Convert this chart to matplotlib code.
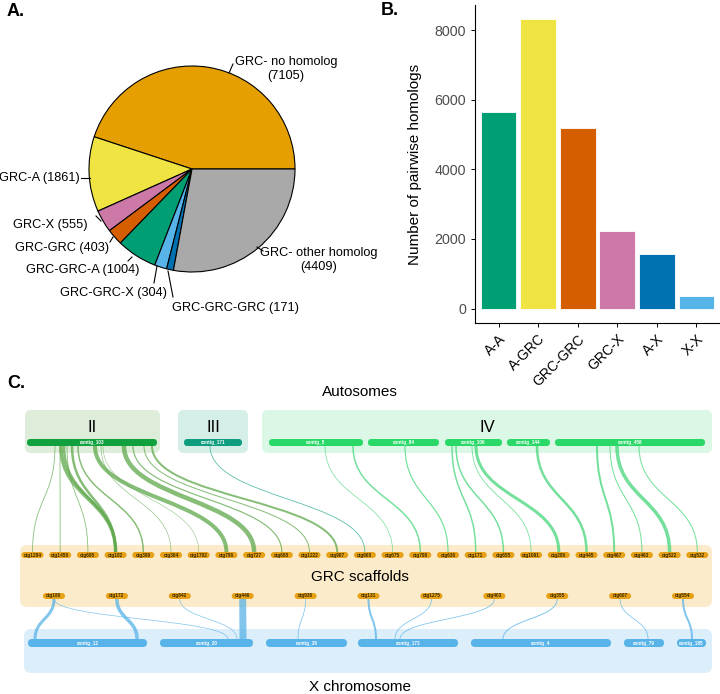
import matplotlib
matplotlib.use("Agg")
import matplotlib.pyplot as plt
from matplotlib.patches import FancyBboxPatch, PathPatch
from matplotlib.path import Path

plt.rcParams['font.family'] = ['Liberation Sans', 'DejaVu Sans']

# ------------------------------------------------------------
# Data
# ------------------------------------------------------------

# Panel A: GRC gene categories
pie_labels = ["GRC- no homolog\n(7105)", "GRC-A (1861)", "GRC-X (555)", "GRC-GRC (403)",
              "GRC-GRC-A (1004)", "GRC-GRC-X (304)", "GRC-GRC-GRC (171)",
              "GRC- other homolog\n(4409)"]
pie_values = [7105, 1861, 555, 403, 1004, 304, 171, 4409]
pie_colors = ["#E69F00", "#F0E442", "#CC79A7", "#D55E00",
              "#009E73", "#56B4E9", "#0072B2", "#A9A9A9"]

# Panel B: pairwise homologs
bar_cats = ["A-A", "A-GRC", "GRC-GRC", "GRC-X", "A-X", "X-X"]
bar_values = [5640, 8320, 5190, 2240, 1570, 360]
bar_colors = ["#009E73", "#F0E442", "#D55E00", "#CC79A7", "#0072B2", "#56B4E9"]

# Panel C: contigs (name, x start, x end) in pixel layout
auto_contigs = [("contig_103", 27, 157, "II"), ("contig_171", 184, 242, "III"),
                ("contig_5", 269, 363, "IV"), ("contig_84", 368, 439, "IV"),
                ("contig_106", 445, 502, "IV"), ("contig_144", 507, 550, "IV"),
                ("contig_458", 555, 705, "IV")]
x_contigs = [("contig_12", 28, 147), ("contig_20", 160, 253), ("contig_36", 266, 347),
             ("contig_173", 358, 458), ("contig_4", 471, 611), ("contig_79", 624, 664),
             ("contig_185", 677, 706)]
grc_row1 = ["ctg1284", "ctg1456", "ctg695", "ctg182", "ctg389", "ctg304", "ctg1702",
            "ctg796", "ctg727", "ctg688", "ctg1222", "ctg907", "ctg668", "ctg675",
            "ctg708", "ctg636", "ctg171", "ctg655", "ctg1091", "ctg286", "ctg445",
            "ctg467", "ctg463", "ctg522", "ctg532"]
grc_row2 = ["ctg180", "ctg172", "ctg842", "ctg446", "ctg936", "ctg131", "ctg1275",
            "ctg403", "ctg355", "ctg607", "ctg554"]

# autosome -> GRC links: source chromosome, source x, target scaffold, width
top_src = ["II", "II", "II", "II", "II", "II", "II", "II", "II", "II", "II", "II", "II", "II",
           "III", "IV", "IV", "IV", "IV", "IV", "IV", "IV", "IV", "IV", "IV", "IV", "IV"]
top_src_x = [55, 60, 67, 61, 64, 72, 78, 101, 103, 95, 124, 133, 144, 152,
             210, 325, 353, 405, 452, 456, 472, 476, 537, 597, 610, 617, 639]
top_dst = ["ctg1284", "ctg1456", "ctg695", "ctg182", "ctg182", "ctg182", "ctg389", "ctg304",
           "ctg1702", "ctg796", "ctg727", "ctg688", "ctg1222", "ctg907",
           "ctg668", "ctg675", "ctg708", "ctg636", "ctg171", "ctg655", "ctg1091", "ctg286",
           "ctg445", "ctg467", "ctg463", "ctg522", "ctg532"]
top_w = [0.8, 0.8, 0.8, 3.5, 2.5, 2.5, 1.5, 0.6, 0.5, 4.0, 4.5, 1.2, 1.0, 2.0,
         0.8, 0.7, 1.5, 1.2, 1.5, 1.5, 0.8, 3.0, 2.5, 2.0, 1.0, 3.5, 1.0]

# GRC -> X links: source scaffold, target x, width
bot_src = ["ctg180", "ctg180", "ctg172", "ctg842", "ctg446", "ctg936", "ctg131",
           "ctg1275", "ctg403", "ctg355", "ctg607", "ctg554"]
bot_dst_x = [35, 228, 137, 237, 243, 298, 376, 395, 400, 503, 648, 692]
bot_w = [3.0, 0.7, 3.5, 0.7, 7.0, 0.8, 2.0, 0.8, 0.8, 1.0, 0.8, 2.0]

# ------------------------------------------------------------
# Styles
# ------------------------------------------------------------
box_fill = {"II": "#DDEDD9", "III": "#D6EEE8", "IV": "#DBF7E5"}
bar_fill = {"II": "#11A03E", "III": "#0E9E7E", "IV": "#2AD868"}
link_col = {"II": "#5EA84B", "III": "#1FA58A", "IV": "#45D67A"}
chrom_boxes = {"II": (25, 160), "III": (178, 248), "IV": (262, 712)}


def rbox(ax, x0, x1, y0, y1, fc, r, z=1):
    ax.add_patch(FancyBboxPatch((x0, y0), x1 - x0, y1 - y0,
                                boxstyle=f"round,pad=0,rounding_size={r}",
                                fc=fc, ec="none", zorder=z))


def link(ax, x0, y0, x1, y1, w, color, alpha=0.75):
    ym = (y0 + y1) / 2
    path = Path([(x0, y0), (x0, ym), (x1, ym), (x1, y1)],
                [Path.MOVETO, Path.CURVE4, Path.CURVE4, Path.CURVE4])
    ax.add_patch(PathPatch(path, fc="none", ec=color, lw=w * 0.72,
                           alpha=alpha, capstyle="butt", zorder=2))


fig = plt.figure(figsize=(7.2, 6.94), dpi=100)
ax = fig.add_axes([0, 0, 1, 1])

# ------------------------------------------------------------
# Panel A: pie
# ------------------------------------------------------------
ax.pie(pie_values, colors=pie_colors, center=(192, 169), radius=103, startangle=0,
       counterclock=False, wedgeprops=dict(edgecolor="black", linewidth=0.8))

lab_pos = [(286, 69, "center"), (80, 178, "right"), (88, 225, "right"), (109, 248, "right"),
           (139, 270, "right"), (167, 293, "right"), (172, 308, "left"), (319, 260, "center")]
leaders = [((233, 64), (229, 73)), ((81, 178), (90, 178)), ((96, 216), (101, 221)),
           ((113, 237), (110, 242)), ((132, 257), (128, 261)), ((157, 266), (154, 283)),
           ((168, 271), (173, 297)), ((257, 247), (263, 251))]
for lab, (x, y, ha), (p, q) in zip(pie_labels, lab_pos, leaders):
    ax.text(x, y, lab, ha=ha, va="center", fontsize=9.2, linespacing=1.15)
    ax.plot([p[0], q[0]], [p[1], q[1]], color="black", lw=0.8)

ax.text(7, 11, "A.", fontsize=13, fontweight="bold", va="center")
ax.text(381, 10, "B.", fontsize=13, fontweight="bold", va="center")
ax.text(7, 383, "C.", fontsize=13, fontweight="bold", va="center")

# ------------------------------------------------------------
# Panel C: synteny links
# ------------------------------------------------------------
ax.text(360, 392, "Autosomes", ha="center", va="center", fontsize=11)
for ch, (x0, x1) in chrom_boxes.items():
    rbox(ax, x0, x1, 410, 453, box_fill[ch], 6)
    ax.text((x0 + x1) / 2, 427, ch, ha="center", va="center", fontsize=12)

for name, x0, x1, ch in auto_contigs:
    rbox(ax, x0, x1, 439, 446, bar_fill[ch], 3.5, z=3)
    ax.text((x0 + x1) / 2, 442.5, name, ha="center", va="center", fontsize=3.3,
            color="white", fontweight="bold", zorder=4)

# GRC box
rbox(ax, 20, 712, 545, 607, "#FCEBCB", 7)
ax.text(360, 577, "GRC scaffolds", ha="center", va="center", fontsize=11)
row1_x = {n: 32.5 + i * 27.7 for i, n in enumerate(grc_row1)}
row2_x = {n: 54 + i * 62.9 for i, n in enumerate(grc_row2)}
for row, y in ((row1_x, 555), (row2_x, 596)):
    for n, cx in row.items():
        rbox(ax, cx - 11, cx + 11, y - 3, y + 3, "#E7A116", 3, z=3)
        ax.text(cx, y, n, ha="center", va="center", fontsize=3.4, color="#3A2A00",
                fontweight="bold", zorder=4)

# X box
rbox(ax, 24, 712, 629, 673, "#DCEEFA", 7)
for name, x0, x1 in x_contigs:
    rbox(ax, x0, x1, 639, 647, "#58B3E8", 4, z=3)
    ax.text((x0 + x1) / 2, 643, name, ha="center", va="center", fontsize=3.3,
            color="white", fontweight="bold", zorder=4)
ax.text(360, 687, "X chromosome", ha="center", va="center", fontsize=11)

for ch, sx, d, w in zip(top_src, top_src_x, top_dst, top_w):
    link(ax, sx, 446, row1_x[d], 552, w, link_col[ch])
for s, dx, w in zip(bot_src, bot_dst_x, bot_w):
    link(ax, row2_x[s], 599, dx, 639, w, "#58B3E8")

ax.set_xlim(0, 720)
ax.set_ylim(694, 0)
ax.set_aspect("auto")
ax.axis("off")

# ------------------------------------------------------------
# Panel B: bars
# ------------------------------------------------------------
bx = fig.add_axes([475 / 720, 1 - 323 / 694, 245 / 720, 318 / 694])
bx.patch.set_alpha(0)
bx.bar(range(len(bar_cats)), bar_values, width=0.9, color=bar_colors,
       edgecolor="white", linewidth=0.6)
bx.set_xlim(-0.6, 5.6)
bx.set_ylim(-416, 8730)
bx.set_yticks([0, 2000, 4000, 6000, 8000])
bx.set_xticks(range(len(bar_cats)))
bx.set_xticklabels(bar_cats, rotation=45, ha="right", va="top",
                   rotation_mode="anchor", fontsize=10)
bx.tick_params(axis="y", labelsize=10.3, labelcolor="#4D4D4D", length=3, width=0.7)
bx.tick_params(axis="x", length=3, width=0.7)
bx.set_ylabel("Number of pairwise homologs", fontsize=11, labelpad=9)
for s in ("top", "right"):
    bx.spines[s].set_visible(False)
for s in ("left", "bottom"):
    bx.spines[s].set_linewidth(0.8)

fig.savefig("out.png", dpi=100)
